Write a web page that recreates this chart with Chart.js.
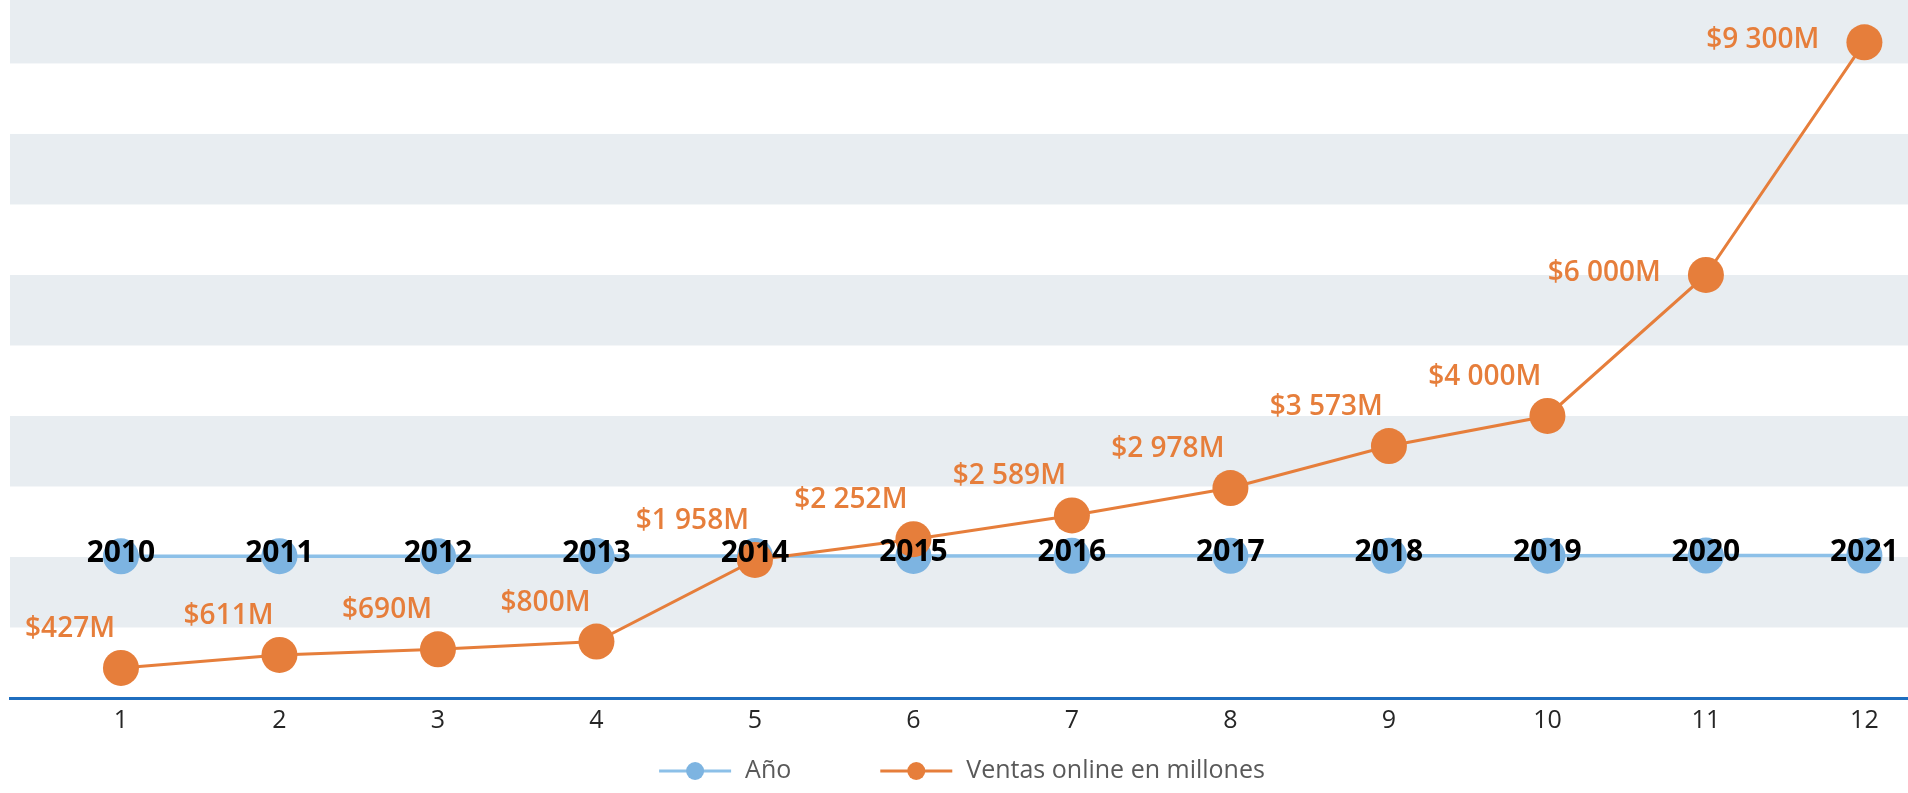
<!DOCTYPE html>
<html>
<head>
<meta charset="utf-8">
<script src="https://cdn.jsdelivr.net/npm/chart.js@4/dist/chart.umd.min.js"></script>
<style>
html,body{margin:0;padding:0;background:#fff;overflow:hidden}
#wrap{width:1908px;height:793px;position:relative}
canvas{display:block}
</style>
</head>
<body>
<div id="wrap"><canvas id="c" width="1908" height="793" style="width:1908px;height:793px"></canvas></div>
<script>
// ---- data ----
const categories = [1, 2, 3, 4, 5, 6, 7, 8, 9, 10, 11, 12];
const years = [2010, 2011, 2012, 2013, 2014, 2015, 2016, 2017, 2018, 2019, 2020, 2021];
const sales = [427, 611, 690, 800, 1958, 2252, 2589, 2978, 3573, 4000, 6000, 9300];
const seriesNames = ['Año', 'Ventas online en millones'];
const salesLabelSide = ['top','top','top','top','top','top','top','top','top','top','left','left'];

// ---- style ----
const ORANGE = '#E67E3B';
const BLUE_PT = '#7DB4E1';
const BLUE_LINE = '#8CC0E8';
const AXIS_BLUE = '#1F6EBF';
const BAND = '#E8EDF1';
const FONT = "'Open Sans', 'DejaVu Sans', sans-serif";

function fmtMoney(v) {
  return '$' + String(v).replace(/\B(?=(\d{3})+(?!\d))/g, ' ') + 'M';
}

const bandsPlugin = {
  id: 'bands',
  beforeDatasetsDraw(chart) {
    const { ctx, chartArea: a, scales: { y } } = chart;
    ctx.save();
    ctx.beginPath();
    ctx.rect(a.left, a.top, a.right - a.left, a.bottom - a.top);
    ctx.clip();
    ctx.fillStyle = BAND;
    const step = 1000;
    for (let v = step; v < 11000; v += 2 * step) {
      const y1 = y.getPixelForValue(v);
      const y2 = y.getPixelForValue(v + step);
      ctx.fillRect(a.left, y2, a.right - a.left, y1 - y2);
    }
    ctx.restore();
  }
};

const labelsPlugin = {
  id: 'pointLabels',
  afterDatasetsDraw(chart) {
    const ctx = chart.ctx;
    ctx.save();
    const m0 = chart.getDatasetMeta(0);
    ctx.font = "bold 30px " + FONT;
    ctx.fillStyle = '#000';
    ctx.textAlign = 'center';
    ctx.textBaseline = 'middle';
    m0.data.forEach((pt, i) => {
      ctx.fillText(String(years[i]), pt.x, pt.y - 3);
    });
    const m1 = chart.getDatasetMeta(1);
    ctx.font = "600 28px " + FONT;
    ctx.fillStyle = ORANGE;
    ctx.textAlign = 'right';
    m1.data.forEach((pt, i) => {
      const txt = fmtMoney(sales[i]);
      if (salesLabelSide[i] === 'left') {
        ctx.fillText(txt, pt.x - 45, pt.y - 2);
      } else {
        ctx.fillText(txt, pt.x - 6, pt.y - 39);
      }
    });
    ctx.restore();
  }
};

const legendPlugin = {
  id: 'customLegend',
  afterDraw(chart) {
    const ctx = chart.ctx;
    const a = chart.chartArea;
    const colors = [[BLUE_LINE, BLUE_PT], [ORANGE, ORANGE]];
    ctx.save();
    ctx.font = "25px " + FONT;
    const lineW = 72, gap = 14, itemGap = 89;
    const widths = seriesNames.map(n => ctx.measureText(n).width);
    let total = 0;
    widths.forEach((w, i) => { total += lineW + gap + w + (i < widths.length - 1 ? itemGap : 0); });
    let x = (a.left + a.right) / 2 - total / 2 + 3;
    const y = 771;
    seriesNames.forEach((n, i) => {
      ctx.strokeStyle = colors[i][0];
      ctx.lineWidth = 3;
      ctx.beginPath();
      ctx.moveTo(x, y);
      ctx.lineTo(x + lineW, y);
      ctx.stroke();
      ctx.fillStyle = colors[i][1];
      ctx.beginPath();
      ctx.arc(x + lineW / 2, y, 9, 0, Math.PI * 2);
      ctx.fill();
      ctx.fillStyle = '#595959';
      ctx.textAlign = 'left';
      ctx.textBaseline = 'middle';
      ctx.fillText(n, x + lineW + gap, y);
      x += lineW + gap + widths[i] + itemGap;
    });
    ctx.restore();
  }
};

const ctx = document.getElementById('c');
new Chart(ctx, {
  type: 'line',
  data: {
    datasets: [
      {
        label: seriesNames[0],
        data: categories.map((c, i) => ({ x: c, y: years[i] })),
        borderColor: BLUE_LINE,
        backgroundColor: BLUE_PT,
        borderWidth: 3.5,
        pointRadius: 18,
        pointHoverRadius: 18,
        pointBackgroundColor: BLUE_PT,
        pointBorderWidth: 0,
        order: 2
      },
      {
        label: seriesNames[1],
        data: categories.map((c, i) => ({ x: c, y: sales[i] })),
        borderColor: ORANGE,
        backgroundColor: ORANGE,
        borderWidth: 3,
        pointRadius: 18,
        pointHoverRadius: 18,
        pointBackgroundColor: ORANGE,
        pointBorderWidth: 0,
        order: 1
      }
    ]
  },
  options: {
    responsive: false,
    maintainAspectRatio: false,
    devicePixelRatio: 1,
    animation: false,
    events: [],
    clip: false,
    layout: { autoPadding: false, padding: { left: 10, right: 0, top: 0, bottom: 49 } },
    plugins: { legend: { display: false }, tooltip: { enabled: false } },
    scales: {
      x: {
        type: 'linear',
        min: 0.3,
        max: 12.275,
        afterBuildTicks: (axis) => { axis.ticks = categories.map(v => ({ value: v })); },
        grid: { display: false, drawTicks: false },
        border: { display: true, color: AXIS_BLUE, width: 3 },
        ticks: {
          padding: 8,
          color: '#262626',
          font: { family: FONT, size: 25 },
          callback: (v) => String(v),
          maxRotation: 0,
          autoSkip: false
        }
      },
      y: {
        display: false,
        min: 0,
        max: 9900
      }
    }
  },
  plugins: [bandsPlugin, labelsPlugin, legendPlugin]
});
</script>
</body>
</html>
